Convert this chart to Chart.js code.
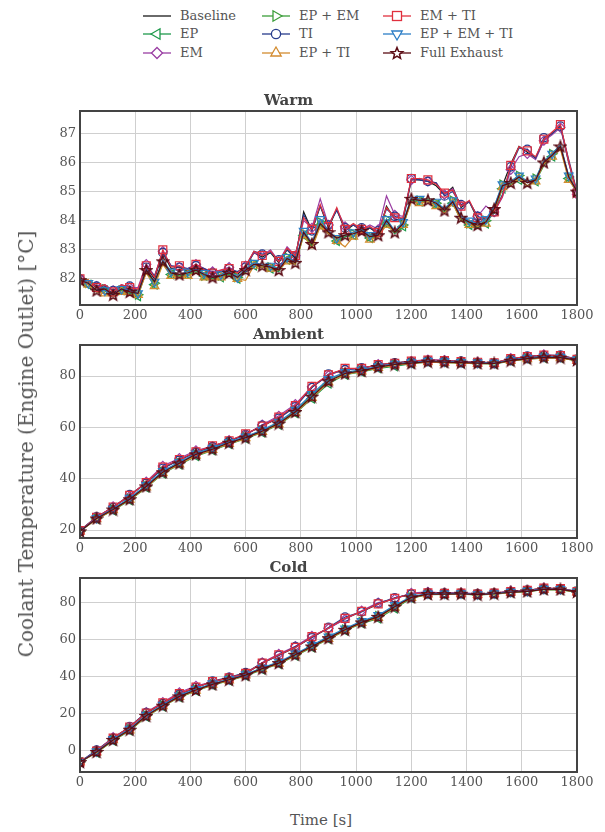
<!DOCTYPE html>
<html>
<head>
<meta charset="utf-8">
<title>Coolant temperature</title>
<script src="https://cdn.jsdelivr.net/npm/chart.js@4.4.1/dist/chart.umd.min.js"></script>
<style>
  body { margin: 0; background: #fff; width: 605px; height: 832px; position: relative; overflow: hidden;
         font-family: 'DejaVu Serif', serif; color: #555; }
  canvas { position: absolute; left: 0; }
  .item { position: absolute; font-size: 13px; line-height: 18px; white-space: nowrap; padding-left: 37px; }
  .item svg { position: absolute; left: 0; top: 0; }
  #ylabel { position: absolute; left: 26px; top: 444px; font-size: 20px; white-space: nowrap;
            transform: translate(-50%, -50%) rotate(-90deg); }
  #xlabel { position: absolute; left: 321px; top: 820px; font-size: 15px; transform: translate(-50%, -50%); }
</style>
</head>
<body>
<div id="legend"></div>
<canvas id="warm" width="605" height="239" style="top:88px"></canvas>
<canvas id="ambient" width="605" height="238" style="top:322px"></canvas>
<canvas id="cold" width="605" height="239" style="top:555px"></canvas>
<div id="ylabel">Coolant Temperature (Engine Outlet) [°C]</div>
<div id="xlabel">Time [s]</div>
<script>
// Time stamps [s]
const warmTimes = [0, 30, 60, 90, 120, 150, 180, 210, 240, 270, 300, 330, 360, 390, 420, 450, 480, 510, 540, 570,
  600, 630, 660, 690, 720, 750, 780, 810, 840, 870, 900, 930, 960, 990, 1020, 1050, 1080, 1110, 1140, 1170,
  1200, 1230, 1260, 1290, 1320, 1350, 1380, 1410, 1440, 1470, 1500, 1530, 1560, 1590, 1620, 1650, 1680, 1710, 1740, 1770, 1800];
const rampTimes = [0, 60, 120, 180, 240, 300, 360, 420, 480, 540, 600, 660, 720, 780, 840, 900, 960, 1020, 1080, 1140,
  1200, 1260, 1320, 1380, 1440, 1500, 1560, 1620, 1680, 1740, 1800];

// Warm start
const warmBaseline = [82.0, 81.9, 81.7, 81.7, 81.5, 81.75, 81.65, 81.6, 82.4, 82.0, 82.9, 82.35, 82.4, 82.25, 82.45, 82.3, 82.15, 82.25, 82.3, 82.15,
  82.4, 82.9, 82.75, 82.9, 82.55, 83.0, 82.7, 84.3, 83.65, 84.5, 83.75, 84.4, 83.65, 83.85, 83.65, 83.75, 83.55, 84.5, 84.05, 84.0,
  85.4, 85.4, 85.35, 85.2, 84.9, 85.15, 84.45, 84.65, 84.05, 84.05, 84.25, 85.2, 85.95, 86.55, 86.35, 86.15, 86.75, 87.0, 87.25, 86.0, 84.95];
const warmEP = [81.95, 81.8, 81.55, 81.6, 81.4, 81.6, 81.5, 81.4, 82.25, 81.8, 82.55, 82.15, 82.05, 82.15, 82.25, 82.1, 82.0, 82.05, 82.15, 82.0,
  82.25, 82.45, 82.4, 82.35, 82.25, 82.65, 82.5, 83.5, 83.1, 83.85, 83.55, 83.3, 83.45, 83.5, 83.6, 83.4, 83.45, 83.9, 83.55, 83.8,
  84.7, 84.65, 84.65, 84.55, 84.3, 84.6, 84.0, 83.85, 83.75, 83.9, 84.3, 85.1, 85.25, 85.4, 85.2, 85.35, 85.9, 86.2, 86.5, 85.45, 84.95];
const warmEM = [82.0, 81.95, 81.75, 81.8, 81.6, 81.8, 81.7, 81.7, 82.5, 82.1, 82.95, 82.45, 82.4, 82.35, 82.5, 82.35, 82.25, 82.3, 82.4, 82.2,
  82.45, 82.9, 82.8, 83.0, 82.6, 83.1, 82.8, 84.0, 83.75, 84.75, 83.85, 84.4, 83.8, 83.85, 83.7, 83.85, 83.7, 84.85, 84.2, 84.15,
  85.4, 85.45, 85.35, 85.3, 84.9, 85.1, 84.5, 84.65, 84.15, 84.5, 84.3, 84.8, 85.75, 86.2, 86.3, 86.1, 86.75, 86.95, 87.2, 86.0, 84.9];
const warmEPEM = [81.95, 81.85, 81.6, 81.65, 81.45, 81.6, 81.55, 81.45, 82.3, 81.85, 82.6, 82.2, 82.1, 82.2, 82.3, 82.1, 82.05, 82.1, 82.2, 82.05,
  82.25, 82.5, 82.45, 82.4, 82.3, 82.75, 82.6, 83.55, 83.15, 83.95, 83.6, 83.35, 83.5, 83.55, 83.7, 83.45, 83.5, 84.05, 83.6, 83.85,
  84.75, 84.7, 84.75, 84.6, 84.4, 84.7, 84.05, 83.9, 83.8, 84.0, 84.45, 85.25, 85.35, 85.55, 85.35, 85.45, 86.05, 86.3, 86.6, 85.5, 85.0];
const warmTI = [82.0, 81.9, 81.75, 81.75, 81.6, 81.75, 81.75, 81.6, 82.4, 82.1, 82.9, 82.45, 82.4, 82.35, 82.45, 82.35, 82.2, 82.25, 82.35, 82.25,
  82.4, 82.95, 82.85, 82.9, 82.65, 83.0, 82.75, 84.2, 83.65, 84.5, 83.85, 84.35, 83.75, 83.85, 83.75, 83.75, 83.65, 84.4, 84.15, 84.05,
  85.45, 85.4, 85.35, 85.3, 84.85, 85.0, 84.55, 84.65, 84.15, 84.05, 84.3, 84.9, 85.85, 86.5, 86.45, 86.15, 86.85, 87.0, 87.25, 86.1, 85.0];
const warmEPTI = [81.95, 81.8, 81.55, 81.5, 81.4, 81.55, 81.45, 81.45, 82.2, 81.75, 82.5, 82.1, 82.05, 82.1, 82.2, 82.05, 81.95, 82.05, 82.1, 82.0,
  81.95, 82.45, 82.4, 82.35, 82.3, 82.6, 82.5, 83.5, 83.05, 83.8, 83.55, 83.3, 83.1, 83.45, 83.6, 83.35, 83.45, 83.85, 83.6, 83.85,
  84.65, 84.6, 84.65, 84.5, 84.25, 84.6, 84.0, 83.85, 83.8, 83.9, 84.35, 85.15, 85.2, 85.45, 85.2, 85.35, 85.95, 86.2, 86.45, 85.4, 85.0];
const warmEMTI = [82.0, 81.95, 81.7, 81.8, 81.55, 81.8, 81.7, 81.65, 82.45, 82.05, 83.0, 82.4, 82.45, 82.3, 82.5, 82.3, 82.2, 82.3, 82.35, 82.2,
  82.45, 82.95, 82.8, 82.95, 82.6, 83.05, 82.8, 84.1, 83.7, 84.55, 83.8, 84.45, 83.7, 83.9, 83.7, 83.8, 83.6, 84.45, 84.1, 84.1,
  85.45, 85.45, 85.4, 85.25, 84.95, 85.05, 84.5, 84.7, 84.1, 84.1, 84.3, 84.85, 85.9, 86.55, 86.4, 86.2, 86.8, 87.05, 87.3, 86.05, 84.95];
const warmEPEMTI = [82.0, 81.85, 81.6, 81.6, 81.45, 81.65, 81.6, 81.5, 82.35, 81.9, 82.65, 82.25, 82.15, 82.25, 82.3, 82.2, 82.05, 82.15, 82.25, 82.05,
  82.35, 82.55, 82.5, 82.45, 82.35, 82.75, 82.6, 83.65, 83.25, 84.05, 83.65, 83.4, 83.5, 83.6, 83.7, 83.5, 83.55, 84.05, 83.65, 83.95,
  84.8, 84.75, 84.7, 84.65, 84.4, 84.7, 84.15, 84.0, 83.9, 84.05, 84.5, 85.25, 85.35, 85.55, 85.35, 85.45, 86.05, 86.3, 86.6, 85.55, 85.0];
const warmFull = [81.95, 81.85, 81.6, 81.65, 81.45, 81.65, 81.55, 81.5, 82.3, 81.9, 82.6, 82.2, 82.15, 82.2, 82.3, 82.15, 82.05, 82.1, 82.2, 82.05,
  82.3, 82.5, 82.45, 82.4, 82.3, 82.7, 82.55, 83.6, 83.2, 83.9, 83.6, 83.4, 83.5, 83.55, 83.65, 83.45, 83.5, 84.0, 83.6, 83.9,
  84.75, 84.7, 84.7, 84.6, 84.35, 84.65, 84.1, 83.95, 83.85, 83.95, 84.4, 85.2, 85.3, 85.5, 85.3, 85.4, 86.0, 86.25, 86.55, 85.5, 85.0];

// Ambient start
const ambBaseline = [19.8, 24.9, 28.9, 33.4, 38.4, 44.2, 47.4, 50.4, 52.7, 54.7, 57.3, 60.6, 63.8, 68.3, 75.6, 80.4, 82.7, 83.0, 84.4, 85.0,
  85.7, 86.1, 85.9, 85.6, 85.3, 85.1, 86.7, 87.5, 88.1, 87.9, 86.5];
const ambEP = [19.5, 24.3, 27.6, 31.6, 36.5, 42.0, 45.5, 48.8, 51.0, 53.5, 55.6, 58.0, 61.0, 65.5, 71.2, 77.0, 80.5, 81.6, 83.0, 83.8,
  84.8, 85.4, 85.2, 85.0, 84.8, 84.7, 85.8, 86.6, 87.0, 87.0, 86.0];
const ambEM = [19.8, 24.8, 29.2, 33.2, 38.8, 45.0, 48.0, 51.0, 52.6, 55.0, 57.0, 61.0, 64.5, 69.0, 75.8, 80.2, 82.8, 82.8, 84.6, 84.8,
  85.8, 86.4, 86.2, 85.5, 85.5, 85.0, 87.0, 87.4, 88.4, 87.8, 86.4];
const ambEPEM = [19.5, 24.6, 28.2, 32.2, 37.2, 42.8, 46.2, 49.6, 51.8, 54.2, 56.2, 58.8, 61.8, 66.4, 72.5, 78.4, 81.2, 82.2, 83.6, 84.6,
  85.2, 85.8, 85.6, 85.3, 85.1, 85.0, 86.2, 87.0, 87.5, 87.4, 86.3];
const ambTI = [19.8, 25.2, 28.8, 33.8, 38.2, 44.0, 47.2, 50.2, 52.5, 54.5, 57.2, 60.8, 63.5, 68.0, 75.5, 80.8, 82.5, 83.2, 84.2, 85.2,
  85.6, 86.0, 85.8, 85.8, 85.2, 85.0, 86.5, 87.8, 88.0, 88.2, 86.6];
const ambEPTI = [19.5, 24.2, 27.8, 31.8, 36.6, 42.2, 45.6, 49.0, 51.2, 53.6, 55.8, 58.2, 61.2, 65.6, 71.5, 77.5, 80.6, 81.8, 83.2, 84.2,
  84.9, 85.4, 85.2, 85.0, 84.8, 84.8, 85.9, 86.6, 87.1, 87.0, 86.0];
const ambEMTI = [19.8, 25.0, 29.0, 33.5, 38.5, 44.5, 47.5, 50.5, 52.8, 54.8, 57.5, 60.5, 64.0, 68.5, 76.0, 80.5, 83.0, 83.0, 84.5, 85.0,
  85.8, 86.2, 86.0, 85.6, 85.4, 85.2, 86.8, 87.6, 88.2, 88.0, 86.5];
const ambEPEMTI = [19.5, 24.7, 28.3, 32.5, 37.5, 43.0, 46.5, 49.8, 52.0, 54.3, 56.4, 59.0, 62.2, 66.8, 73.0, 78.8, 81.5, 82.4, 83.8, 84.8,
  85.3, 85.9, 85.7, 85.4, 85.2, 85.1, 86.3, 87.1, 87.6, 87.5, 86.4];
const ambFull = [19.5, 24.5, 28.0, 32.0, 37.0, 42.5, 46.0, 49.5, 51.5, 54.0, 56.0, 58.5, 61.5, 66.0, 72.0, 78.0, 81.0, 82.0, 83.5, 84.5,
  85.0, 85.6, 85.4, 85.2, 85.0, 84.9, 86.0, 86.8, 87.3, 87.2, 86.2];

// Cold start
const coldBaseline = [-6.0, 0.0, 7.0, 12.8, 20.4, 25.8, 30.8, 34.4, 37.4, 39.4, 41.8, 47.4, 51.8, 56.0, 61.5, 66.4, 71.5, 75.4, 79.4, 82.6,
  84.9, 85.4, 85.2, 85.2, 84.9, 85.2, 86.1, 86.8, 87.9, 87.7, 86.2];
const coldEP = [-6.0, -1.0, 5.5, 11.0, 18.5, 24.0, 29.0, 32.5, 35.6, 38.0, 40.6, 44.0, 47.0, 51.4, 56.0, 60.4, 65.0, 69.0, 71.5, 77.0,
  82.6, 84.5, 84.6, 84.8, 84.3, 84.8, 85.6, 86.1, 87.2, 87.1, 85.8];
const coldEM = [-6.0, 0.2, 7.4, 12.6, 21.0, 26.4, 31.6, 35.2, 37.2, 39.8, 41.8, 47.8, 52.4, 56.6, 62.2, 66.2, 71.2, 75.8, 80.2, 82.2,
  85.4, 86.0, 85.4, 85.6, 85.0, 85.2, 86.6, 86.6, 88.2, 87.6, 86.0];
const coldEPEM = [-6.0, -0.4, 6.2, 11.8, 19.2, 24.8, 29.8, 33.2, 36.2, 38.6, 41.2, 44.8, 47.8, 52.2, 56.8, 61.4, 65.8, 69.8, 73.0, 78.4,
  83.2, 85.0, 85.0, 85.1, 84.6, 85.1, 85.9, 86.4, 87.5, 87.4, 86.1];
const coldTI = [-6.0, 0.5, 6.8, 13.2, 20.8, 25.6, 30.6, 34.2, 37.8, 39.8, 42.4, 47.6, 51.6, 56.4, 61.2, 66.8, 72.4, 75.2, 79.8, 82.8,
  84.8, 85.6, 85.4, 85.2, 85.0, 85.4, 86.0, 87.0, 87.8, 87.6, 86.4];
const coldEPTI = [-6.0, -0.8, 5.8, 11.2, 18.6, 24.2, 29.2, 32.6, 35.8, 38.2, 40.8, 44.2, 47.2, 51.6, 56.2, 60.6, 65.2, 69.2, 72.0, 77.5,
  82.8, 84.6, 84.6, 84.9, 84.4, 84.9, 85.7, 86.2, 87.2, 87.2, 85.9];
const coldEMTI = [-6.0, 0.0, 7.0, 13.0, 20.5, 26.0, 31.0, 34.5, 37.5, 39.5, 42.0, 47.5, 52.0, 56.0, 61.8, 66.5, 71.7, 75.5, 79.5, 82.5,
  85.0, 85.5, 85.2, 85.3, 84.8, 85.3, 86.2, 86.8, 88.0, 87.8, 86.2];
const coldEPEMTI = [-6.0, -0.2, 6.4, 12.0, 19.5, 25.0, 30.0, 33.5, 36.5, 38.8, 41.4, 45.0, 48.2, 52.6, 57.2, 61.8, 66.2, 70.2, 73.4, 78.8,
  83.4, 85.1, 85.1, 85.2, 84.7, 85.2, 86.0, 86.5, 87.6, 87.5, 86.2];
const coldFull = [-6.0, -0.5, 6.0, 11.5, 19.0, 24.5, 29.5, 33.0, 36.0, 38.5, 41.0, 44.5, 47.5, 52.0, 56.5, 61.0, 65.5, 69.5, 72.5, 78.0,
  83.0, 84.8, 84.8, 85.0, 84.5, 85.0, 85.8, 86.3, 87.4, 87.3, 86.0];

const xTicks = [0, 200, 400, 600, 800, 1000, 1200, 1400, 1600, 1800];

// Series look (same order as the legend columns)
const series = [
  { label: 'Baseline', color: '#1a1a1a', style: null },
  { label: 'EP', color: '#1f9a4c', style: 'triangle', rot: -90, r: 5 },
  { label: 'EM', color: '#9a3ea3', style: 'rectRot', r: 4.6 },
  { label: 'EP + EM', color: '#3c9e3a', style: 'triangle', rot: 90, r: 5 },
  { label: 'TI', color: '#283c8c', style: 'circle', r: 4.2 },
  { label: 'EP + TI', color: '#d38b2f', style: 'triangle', rot: 0, r: 5 },
  { label: 'EM + TI', color: '#e0303e', style: 'rect', r: 5.6 },
  { label: 'EP + EM + TI', color: '#2c7ec6', style: 'triangle', rot: 180, r: 5 },
  { label: 'Full Exhaust', color: '#5a0b14', style: 'star', r: 5 }
];

function starPoints(cx, cy, ro, ri) {
  const pts = [];
  for (let k = 0; k < 10; k++) {
    const r = k % 2 === 0 ? ro : ri;
    const a = -Math.PI / 2 + k * Math.PI / 5;
    pts.push([cx + r * Math.cos(a), cy + r * Math.sin(a)]);
  }
  return pts;
}

function starImage(color) {
  const c = document.createElement('canvas');
  c.width = 14; c.height = 14;
  const g = c.getContext('2d');
  g.beginPath();
  starPoints(7, 7.5, 5.6, 2.4).forEach(([px, py], k) => k ? g.lineTo(px, py) : g.moveTo(px, py));
  g.closePath();
  g.strokeStyle = color;
  g.lineWidth = 1.6;
  g.stroke();
  return c;
}

// Legend (3 columns, filled column by column)
const legendCols = [143, 262, 383];
const legendRows = [16, 34, 53];
const legend = document.getElementById('legend');
series.forEach((s, i) => {
  const el = document.createElement('div');
  el.className = 'item';
  el.style.left = legendCols[Math.floor(i / 3)] + 'px';
  el.style.top = (legendRows[i % 3] - 9) + 'px';
  let mark = '';
  const c = s.color;
  if (s.style === 'triangle') {
    const p = [[0, -6], [5.2, 3], [-5.2, 3]].map(([x, y]) => {
      const a = s.rot * Math.PI / 180;
      return [14 + x * Math.cos(a) - y * Math.sin(a), 9 + x * Math.sin(a) + y * Math.cos(a)];
    });
    mark = `<polygon points="${p.map(q => q.join(',')).join(' ')}" fill="#fff" stroke="${c}" stroke-width="1.3"/>`;
  } else if (s.style === 'rectRot') {
    mark = `<polygon points="14,3.5 19.5,9 14,14.5 8.5,9" fill="#fff" stroke="${c}" stroke-width="1.3"/>`;
  } else if (s.style === 'circle') {
    mark = `<circle cx="14" cy="9" r="4.6" fill="#fff" stroke="${c}" stroke-width="1.3"/>`;
  } else if (s.style === 'rect') {
    mark = `<rect x="9.5" y="4.5" width="9" height="9" fill="#fff" stroke="${c}" stroke-width="1.3"/>`;
  } else if (s.style === 'star') {
    mark = `<polygon points="${starPoints(14, 9.5, 6, 2.6).map(q => q.join(',')).join(' ')}" fill="#fff" stroke="${c}" stroke-width="1.5"/>`;
  }
  el.innerHTML = `<svg width="30" height="18"><line x1="0" y1="9" x2="28" y2="9" stroke="${c}" stroke-width="1.3"/>${mark}</svg>${s.label}`;
  legend.appendChild(el);
});

const frame = {
  id: 'frame',
  afterDraw(chart) {
    const { ctx, chartArea: a } = chart;
    ctx.save();
    ctx.strokeStyle = '#444';
    ctx.lineWidth = 2;
    ctx.strokeRect(a.left, a.top, a.right - a.left, a.bottom - a.top);
    ctx.restore();
  }
};

const tickFont = { family: 'DejaVu Serif', size: 13 };

function makeChart(id, title, times, values, yMin, yMax, yStep, markStep) {
  const datasets = series.map((s, i) => ({
    label: s.label,
    data: values[i].map((v, k) => ({ x: times[k], y: v })),
    borderColor: s.color,
    borderWidth: 1.2,
    backgroundColor: 'rgba(255,255,255,0)',
    pointBackgroundColor: 'rgba(255,255,255,0)',
    pointBorderColor: s.color,
    pointBorderWidth: 1.2,
    pointStyle: s.style === 'star' ? starImage(s.color) : (s.style || 'circle'),
    pointRotation: s.rot || 0,
    pointRadius: ctx => (!s.style || (ctx.dataIndex + i) % markStep !== 0) ? 0 : s.r,
    tension: 0,
    order: series.length - i
  }));

  new Chart(document.getElementById(id), {
    type: 'line',
    data: { datasets },
    options: {
      responsive: false,
      animation: false,
      layout: { padding: { left: 0, right: 28, top: 0, bottom: 0 } },
      plugins: {
        legend: { display: false },
        tooltip: { enabled: false },
        title: {
          display: true,
          text: title,
          color: '#444',
          font: { family: 'DejaVu Serif', size: 15, weight: 'bold' },
          padding: { top: 4, bottom: 1 }
        }
      },
      scales: {
        x: {
          type: 'linear',
          min: 0,
          max: 1800,
          afterBuildTicks: scale => { scale.ticks = xTicks.map(v => ({ value: v })); },
          ticks: { color: '#555', font: tickFont, padding: 3, maxRotation: 0, callback: v => String(v) },
          grid: { color: '#cfcfcf', lineWidth: 1, drawTicks: false },
          border: { display: false },
          afterFit: scale => { scale.height = 22; }
        },
        y: {
          min: yMin,
          max: yMax,
          ticks: { stepSize: yStep, includeBounds: false, color: '#555', font: tickFont, padding: 4, callback: v => String(v) },
          grid: { color: '#cfcfcf', lineWidth: 1, drawTicks: false },
          border: { display: false },
          afterFit: scale => { scale.width = 80; }
        }
      }
    },
    plugins: [frame]
  });
}

makeChart('warm', 'Warm', warmTimes,
  [warmBaseline, warmEP, warmEM, warmEPEM, warmTI, warmEPTI, warmEMTI, warmEPEMTI, warmFull],
  81.1, 87.77, 1, 2);
makeChart('ambient', 'Ambient', rampTimes,
  [ambBaseline, ambEP, ambEM, ambEPEM, ambTI, ambEPTI, ambEMTI, ambEPEMTI, ambFull],
  16.9, 92.1, 20, 1);
makeChart('cold', 'Cold', rampTimes,
  [coldBaseline, coldEP, coldEM, coldEPEM, coldTI, coldEPTI, coldEMTI, coldEPEMTI, coldFull],
  -11.35, 93.5, 20, 1);
</script>
</body>
</html>
